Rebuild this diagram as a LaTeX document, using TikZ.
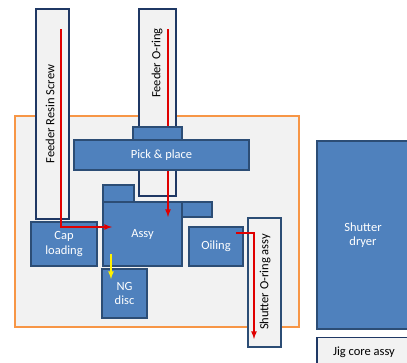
\documentclass[tikz,border=0pt]{standalone}
\usepackage{fontspec}
\setmainfont{Carlito}
\definecolor{blkblue}{HTML}{4F81BD}
\definecolor{edgeblue}{HTML}{2C4D75}
\definecolor{navy}{HTML}{1F3864}
\definecolor{paper}{HTML}{F2F2F2}
\definecolor{cellframe}{HTML}{F79646}
\definecolor{flowred}{HTML}{E00000}
\begin{document}
\begin{tikzpicture}[x=1pt,y=-1pt,
    every node/.style={font=\fontsize{12.5}{14.5}\selectfont},
    blk/.style={draw=edgeblue,line width=1.2pt,fill=blkblue,text=white,inner sep=0pt,align=center},
    gbox/.style={draw=navy,line width=1.6pt,fill=paper,inner sep=0pt},
    flow/.style={-latex,line width=1.6pt,flowred}]
    \useasboundingbox (0,0) rectangle (407,362);
    \clip (0,0) rectangle (407,362);

    % cell frame
    \draw[cellframe,line width=1.3pt,fill=paper] (15,116) rectangle (299,327);

    % feeders
    \node[gbox,minimum width=33pt,minimum height=210pt] (resin) at (52.5,114) {};
    \node[rotate=90] at (50,114) {Feeder Resin Screw};
    \node[gbox,minimum width=37pt,minimum height=187pt] (oring) at (157.5,102.5) {};
    \node[rotate=90] at (157,63) {Feeder O-ring};

    % stations
    \node[blk,minimum width=66pt,minimum height=44pt] (cap) at (64,244) {Cap\\loading};
    \node[blk,minimum width=31pt,minimum height=17pt] (assytab) at (118.5,193.5) {};
    \node[blk,minimum width=30pt,minimum height=15pt] (assybar) at (197,209.5) {};
    \node[blk,minimum width=79pt,minimum height=64pt] (assy) at (142.5,234) {Assy};
    \node[blk,minimum width=45pt,minimum height=49pt] (ng) at (124.5,293.5) {NG\\disc};
    \node[blk,minimum width=54pt,minimum height=39pt] (oil) at (216,246.5) {Oiling};
    \node[gbox,line width=1.3pt,draw=edgeblue,minimum width=33pt,minimum height=129pt] (shutoring) at (264.5,282.5) {};
    \node[rotate=90] at (265,282) {Shutter O-ring assy};

    % outside the cell
    \node[blk,minimum width=92pt,minimum height=188pt] (dryer) at (363,235) {Shutter\\dryer};
    \node[gbox,line width=1.3pt,minimum width=92pt,minimum height=40pt,anchor=north] (jig) at (363,337) {};
    \node at (364,352) {Jig core assy};

    % flows
    \coordinate (resintop) at (61,29);
    \coordinate (assyin) at (112,227);
    \coordinate (oringtop) at (168,29);
    \coordinate (assytop) at (168,217);
    \coordinate (ngout) at (111,254);
    \coordinate (ngin) at (111,279);
    \coordinate (oilout) at (236,233);
    \coordinate (shutend) at (254,339);
    \draw[flow] (resintop) |- (assyin);
    \draw[flow] (oringtop) -- (assytop);
    \draw[flow] (oilout) -| (shutend);
    \draw[-latex,line width=1.6pt,yellow] (ngout) -- (ngin);

    % pick & place over the feeders
    \node[blk,minimum width=49pt,minimum height=13pt] (pptab) at (157.5,133.5) {};
    \node[blk,minimum width=175pt,minimum height=30pt] (pp) at (161.5,155) {Pick \& place};
\end{tikzpicture}
\end{document}
